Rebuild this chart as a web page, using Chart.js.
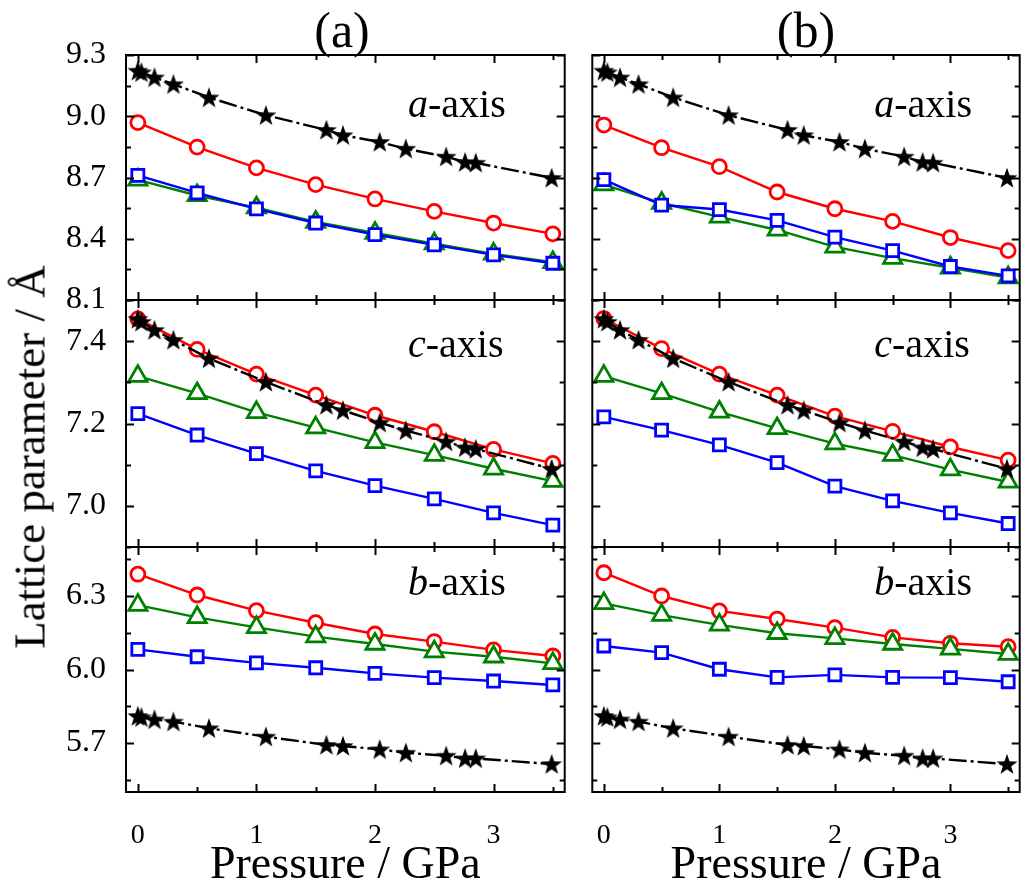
<!DOCTYPE html>
<html lang="en">
<head>
<meta charset="UTF-8">
<title>Lattice parameters under pressure</title>
<script src="https://cdn.jsdelivr.net/npm/chart.js"></script>
<style>
  body {
    margin: 0;
    width: 1032px;
    height: 888px;
    overflow: hidden;
    position: relative;
    background: #fff;
    font-family: 'Liberation Serif', 'Times New Roman', serif;
    color: #000;
  }
  canvas { position: absolute; }
  .col-label {
    position: absolute;
    top: 5px;
    width: 120px;
    text-align: center;
    font-size: 50px;
    line-height: 1;
  }
  .y-title {
    position: absolute;
    left: 30px;
    top: 457px;
    font-size: 45px;
    line-height: 1;
    white-space: nowrap;
    transform: translate(-50%, -50%) rotate(-90deg);
  }
</style>
</head>
<body>
  <div id="fig"></div>
  <div class="col-label" style="left:282px">(a)</div>
  <div class="col-label" style="left:746px">(b)</div>
  <div class="y-title">Lattice parameter / Å</div>

<script>
const FONT = "'Liberation Serif', 'Times New Roman', serif";

// pressure points (GPa)
const pressure = [0, 0.5, 1, 1.5, 2, 2.5, 3, 3.5];
const starPressure = [0, 0.03, 0.14, 0.30, 0.60, 1.08, 1.59, 1.73, 2.04, 2.26, 2.60, 2.76, 2.85, 3.49];

// tick labels
const xTicks = [0, 1, 2, 3];
const aTicks = [8.1, 8.4, 8.7, 9.0, 9.3];
const cTicks = [7.0, 7.2, 7.4];
const bTicks = [5.7, 6.0, 6.3];

// star series (same in both columns), Å
const starA = [9.223, 9.215, 9.190, 9.157, 9.092, 9.005, 8.933, 8.907, 8.874, 8.841, 8.802, 8.775, 8.772, 8.698];
const starC = [7.454, 7.447, 7.427, 7.403, 7.358, 7.301, 7.245, 7.232, 7.202, 7.183, 7.156, 7.142, 7.138, 7.090];
const starB = [5.810, 5.805, 5.796, 5.787, 5.760, 5.726, 5.692, 5.688, 5.674, 5.660, 5.648, 5.637, 5.637, 5.614];

// column (a)
const redA1   = [8.969, 8.849, 8.747, 8.665, 8.595, 8.534, 8.477, 8.424];
const greenA1 = [8.688, 8.612, 8.552, 8.482, 8.428, 8.376, 8.326, 8.285];
const blueA1  = [8.710, 8.625, 8.546, 8.477, 8.420, 8.370, 8.321, 8.280];
const redC1   = [7.454, 7.380, 7.320, 7.269, 7.220, 7.180, 7.137, 7.103];
const greenC1 = [7.315, 7.273, 7.227, 7.190, 7.154, 7.123, 7.090, 7.060];
const blueC1  = [7.224, 7.172, 7.127, 7.085, 7.049, 7.017, 6.983, 6.953];
const redB1   = [6.389, 6.304, 6.240, 6.191, 6.145, 6.114, 6.080, 6.055];
const greenB1 = [6.263, 6.213, 6.172, 6.134, 6.104, 6.073, 6.052, 6.025];
const blueB1  = [6.082, 6.052, 6.027, 6.007, 5.984, 5.967, 5.953, 5.937];

// column (b)
const redA2   = [8.957, 8.846, 8.753, 8.629, 8.547, 8.485, 8.406, 8.342];
const greenA2 = [8.665, 8.575, 8.507, 8.443, 8.360, 8.305, 8.258, 8.210];
const blueA2  = [8.690, 8.565, 8.543, 8.490, 8.408, 8.342, 8.264, 8.218];
const redC2   = [7.455, 7.382, 7.320, 7.269, 7.218, 7.181, 7.143, 7.111];
const greenC2 = [7.315, 7.273, 7.228, 7.188, 7.151, 7.123, 7.088, 7.058];
const blueC2  = [7.216, 7.184, 7.148, 7.105, 7.048, 7.012, 6.983, 6.957];
const redB2   = [6.395, 6.300, 6.239, 6.206, 6.171, 6.131, 6.107, 6.093];
const greenB2 = [6.270, 6.222, 6.182, 6.148, 6.127, 6.104, 6.084, 6.063];
const blueB2  = [6.096, 6.069, 6.001, 5.968, 5.978, 5.968, 5.967, 5.950];

// panel layout in page pixels
const ROWS = [
  { top: 55,  bottom: 300, min: 8.1, max: 9.3, ticks: aTicks, step: 0.15, star: starA, tag: 'a', tagY: 62 },
  { top: 300, bottom: 547, min: 6.9, max: 7.5, ticks: cTicks, step: 0.1,  star: starC, tag: 'c', tagY: 57 },
  { top: 547, bottom: 792, min: 5.5, max: 6.5, ticks: bTicks, step: 0.15, star: starB, tag: 'b', tagY: 48 }
];
const COLS = [
  { left: 126, right: 575, series: [[redA1, greenA1, blueA1], [redC1, greenC1, blueC1], [redB1, greenB1, blueB1]] },
  { left: 582, right: 1030, series: [[redA2, greenA2, blueA2], [redC2, greenC2, blueC2], [redB2, greenB2, blueB2]] }
];

// filled five-point star used as point style
function starImage(size) {
  const c = document.createElement('canvas');
  c.width = c.height = size;
  const g = c.getContext('2d');
  const cx = size / 2, cy = size / 2 + 0.8;
  g.fillStyle = '#000';
  g.beginPath();
  for (let i = 0; i < 10; i++) {
    const r = i % 2 ? size * 0.2 : size * 0.5;
    const ang = -Math.PI / 2 + i * Math.PI / 5;
    g.lineTo(cx + r * Math.cos(ang), cy + r * Math.sin(ang));
  }
  g.closePath();
  g.fill();
  return c;
}
const STAR = starImage(22);

// tick values every `step`, flagged major where they hit a labelled tick
function tickMarks(majors, step, min, max) {
  const out = [];
  for (let k = -40; k <= 40; k++) {
    const v = majors[0] + k * step;
    if (v < min - 1e-9 || v > max + 1e-9) continue;
    out.push({ v, major: Math.abs(k) % 2 === 0 });
  }
  return out;
}

// box frame with inward ticks on all four sides
const panelFrame = {
  id: 'panelFrame',
  afterDatasetsDraw(chart, args, opts) {
    const { ctx, chartArea: a, scales: { x, y } } = chart;
    ctx.save();
    ctx.strokeStyle = '#000';
    ctx.lineWidth = 2;
    ctx.beginPath();
    tickMarks(xTicks, 0.5, x.min, x.max).forEach(t => {
      const px = Math.round(x.getPixelForValue(t.v)) + 0.5;
      const len = t.major ? 8 : 5;
      ctx.moveTo(px, a.bottom); ctx.lineTo(px, a.bottom - len);
      ctx.moveTo(px, a.top); ctx.lineTo(px, a.top + len);
    });
    tickMarks(opts.ticks, opts.step, y.min, y.max).forEach(t => {
      const py = Math.round(y.getPixelForValue(t.v)) + 0.5;
      const len = t.major ? 8 : 5;
      ctx.moveTo(a.left, py); ctx.lineTo(a.left + len, py);
      ctx.moveTo(a.right, py); ctx.lineTo(a.right - len, py);
    });
    ctx.stroke();
    ctx.strokeRect(a.left, a.top, a.width, a.height);
    ctx.restore();
  }
};

// "a-axis" style tag with italic letter
const axisTag = {
  id: 'axisTag',
  afterDraw(chart, args, opts) {
    const { ctx, chartArea: a } = chart;
    const x0 = a.left + 282, y0 = a.top + opts.dy;
    ctx.save();
    ctx.fillStyle = '#000';
    ctx.textBaseline = 'alphabetic';
    ctx.font = 'italic 40px ' + FONT;
    ctx.fillText(opts.letter, x0, y0);
    const w = ctx.measureText(opts.letter).width;
    ctx.font = '40px ' + FONT;
    ctx.fillText('-axis', x0 + w, y0);
    ctx.restore();
  }
};

function series(xs, ys, opts) {
  return Object.assign({
    data: xs.map((x, i) => ({ x, y: ys[i] })),
    showLine: true,
    tension: 0,
    borderWidth: 2.4,
    pointBorderWidth: 2.8,
    pointBackgroundColor: '#fff'
  }, opts);
}

function addPanel(ci, ri) {
  const col = COLS[ci], row = ROWS[ri];
  const isLeft = ci === 0, isBottom = ri === ROWS.length - 1;
  const yAxisW = isLeft ? 100 : 0;
  const padL = isLeft ? 0 : 3, padR = 3, padT = 22;
  const xAxisH = isBottom ? 888 - row.bottom : 0;
  const padB = isBottom ? 0 : 22;
  const w = yAxisW + padL + (col.right - col.left) + padR;
  const h = padT + (row.bottom - row.top) + xAxisH + padB;

  const canvas = document.createElement('canvas');
  canvas.width = w; canvas.height = h;
  canvas.style.width = w + 'px';
  canvas.style.height = h + 'px';
  canvas.style.left = (col.left - yAxisW - padL) + 'px';
  canvas.style.top = (row.top - padT) + 'px';
  document.getElementById('fig').appendChild(canvas);

  const [red, green, blue] = col.series[ri];
  new Chart(canvas, {
    type: 'scatter',
    data: {
      datasets: [
        series(pressure, red, { order: 3, borderColor: '#ff0000', pointBorderColor: '#ff0000', pointStyle: 'circle', pointRadius: 7 }),
        series(pressure, green, { order: 2, borderColor: '#008000', pointBorderColor: '#008000', pointStyle: 'triangle', pointRadius: 10.5 }),
        series(pressure, blue, { order: 1, borderColor: '#0000ff', pointBorderColor: '#0000ff', pointStyle: 'rect', pointRadius: 8.5 }),
        series(starPressure, row.star, { order: 0, borderColor: '#000', borderDash: [18, 4, 3, 4], pointStyle: STAR, pointRadius: 9 })
      ]
    },
    options: {
      responsive: false,
      animation: false,
      devicePixelRatio: 1,
      events: [],
      layout: { padding: { left: padL, right: padR, top: padT, bottom: padB } },
      plugins: {
        legend: { display: false },
        tooltip: { enabled: false },
        panelFrame: { ticks: row.ticks, step: row.step },
        axisTag: { letter: row.tag, dy: row.tagY }
      },
      scales: {
        x: {
          type: 'linear',
          min: -0.1,
          max: 3.6,
          grid: { display: false },
          border: { display: false },
          afterBuildTicks: s => { s.ticks = xTicks.map(v => ({ value: v })); },
          ticks: {
            display: isBottom,
            color: '#000',
            padding: 19,
            minRotation: 0,
            maxRotation: 0,
            autoSkip: false,
            font: { family: FONT, size: 28 },
            callback: v => String(v)
          },
          title: {
            display: isBottom,
            text: 'Pressure / GPa',
            color: '#000',
            padding: { top: 0, bottom: 0 },
            font: { family: FONT, size: 46, lineHeight: 0.94 }
          },
          afterFit: s => {
            s.height = xAxisH;
            s.paddingLeft = 0;
            s.paddingRight = 0;
          }
        },
        y: {
          type: 'linear',
          min: row.min,
          max: row.max,
          grid: { display: false },
          border: { display: false },
          afterBuildTicks: s => { s.ticks = row.ticks.map(v => ({ value: v })); },
          ticks: {
            display: isLeft,
            color: '#000',
            padding: 12,
            font: { family: FONT, size: 32 },
            callback: v => v.toFixed(1)
          },
          afterFit: s => {
            s.width = yAxisW;
            s.paddingTop = 0;
            s.paddingBottom = 0;
          }
        }
      }
    },
    plugins: [panelFrame, axisTag]
  });
}

for (let ri = 0; ri < ROWS.length; ri++) {
  for (let ci = 0; ci < COLS.length; ci++) addPanel(ci, ri);
}
</script>
</body>
</html>
